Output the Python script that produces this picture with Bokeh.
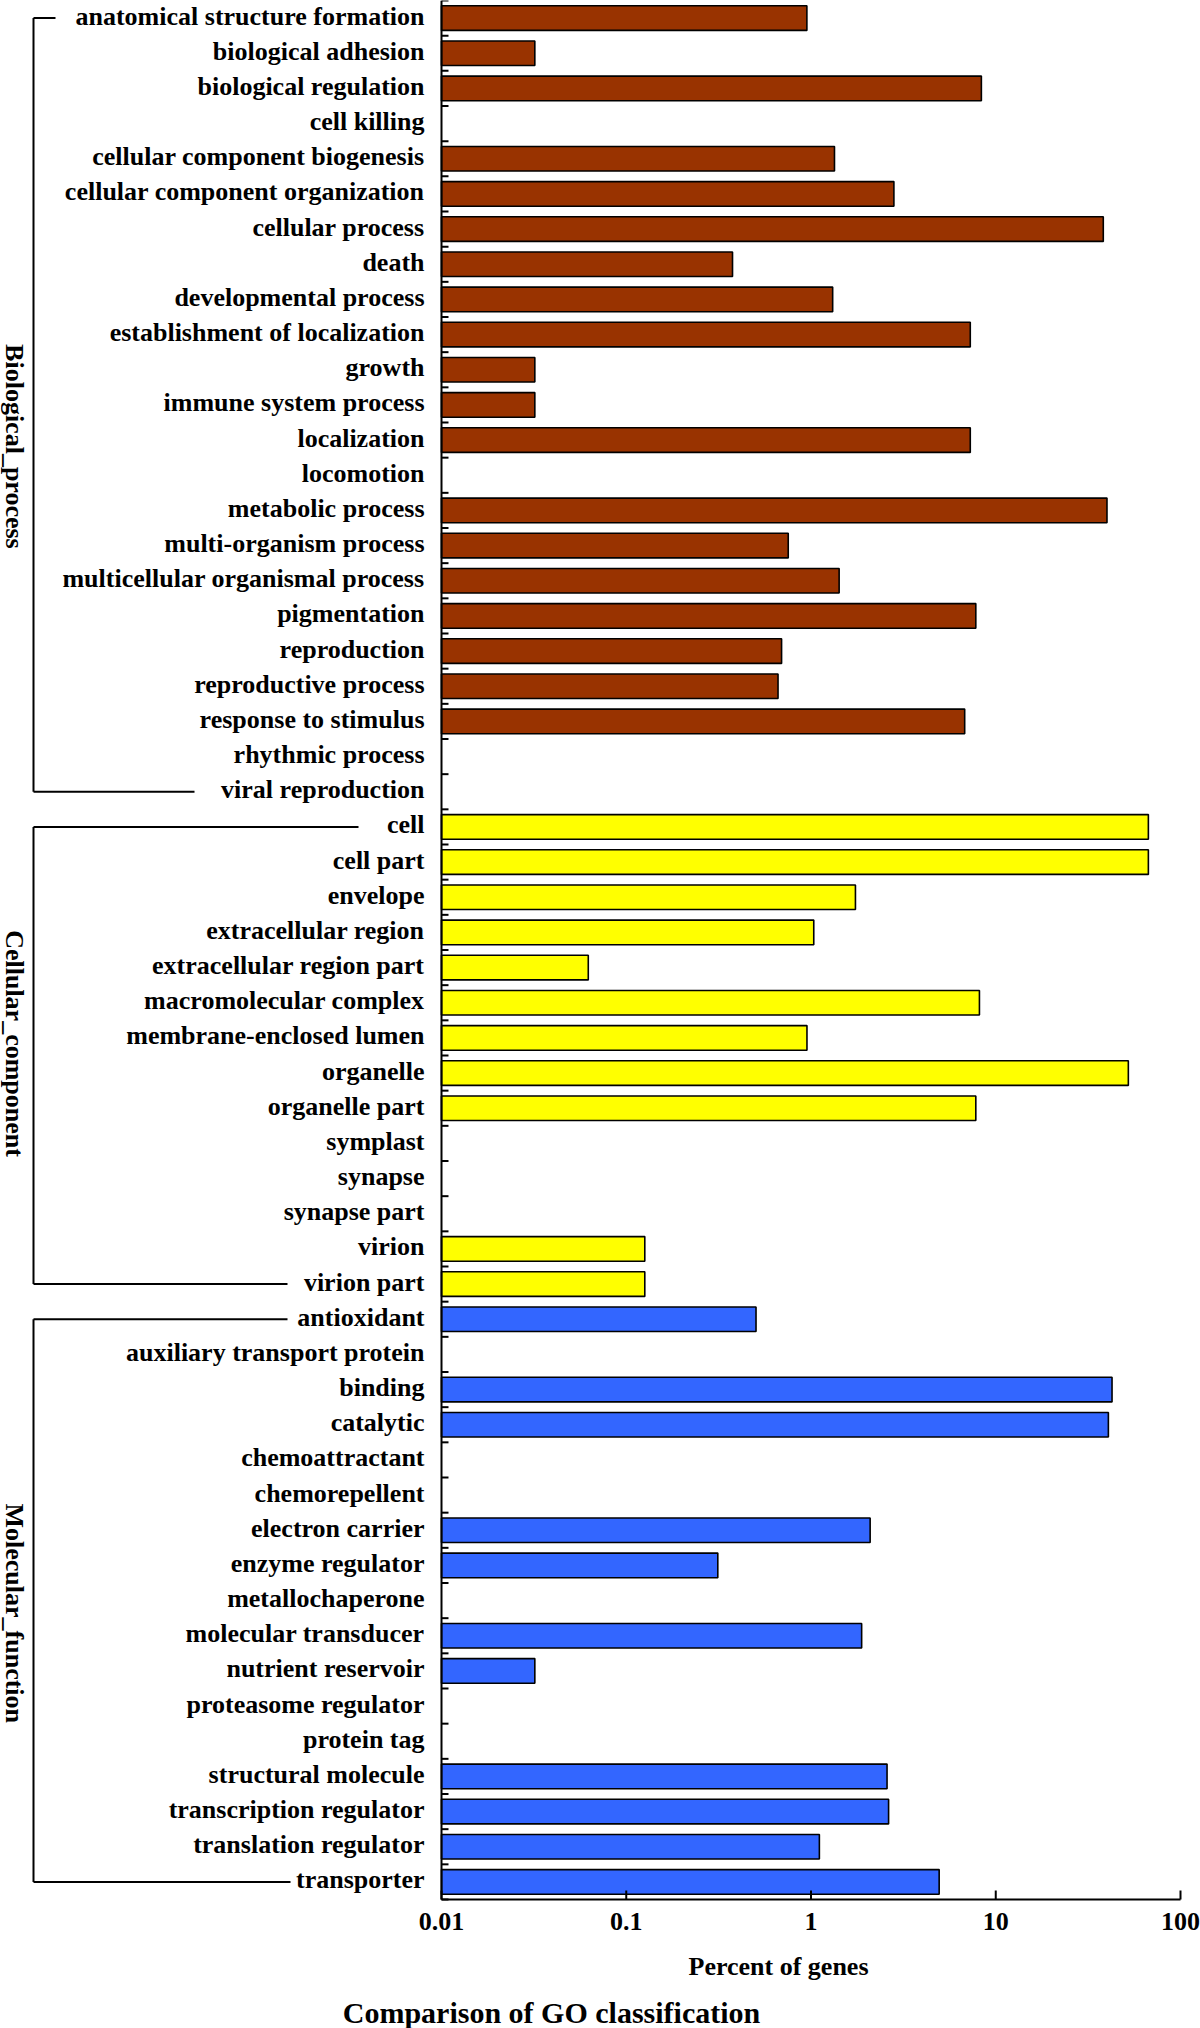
import math
from bokeh.plotting import figure
from bokeh.models import ColumnDataSource, Range1d, LinearScale
from bokeh.core.properties import value
from bokeh.embed import file_html
from bokeh.resources import INLINE

# ---------------- data ----------------
bp_terms = ["anatomical structure formation", "biological adhesion", "biological regulation",
            "cell killing", "cellular component biogenesis", "cellular component organization",
            "cellular process", "death", "developmental process", "establishment of localization",
            "growth", "immune system process", "localization", "locomotion", "metabolic process",
            "multi-organism process", "multicellular organismal process", "pigmentation",
            "reproduction", "reproductive process", "response to stimulus", "rhythmic process",
            "viral reproduction"]
bp_values = [0.95, 0.032, 8.36, 0, 1.34, 2.81, 38.2, 0.376, 1.31, 7.28, 0.032, 0.032, 7.28, 0,
             40.0, 0.753, 1.42, 7.80, 0.693, 0.663, 6.79, 0, 0]

cc_terms = ["cell", "cell part", "envelope", "extracellular region", "extracellular region part",
            "macromolecular complex", "membrane-enclosed lumen", "organelle", "organelle part",
            "symplast", "synapse", "synapse part", "virion", "virion part"]
cc_values = [67.0, 67.0, 1.74, 1.035, 0.0623, 8.16, 0.951, 52.2, 7.80, 0, 0, 0, 0.126, 0.126]

mf_terms = ["antioxidant", "auxiliary transport protein", "binding", "catalytic", "chemoattractant",
            "chemorepellent", "electron carrier", "enzyme regulator", "metallochaperone",
            "molecular transducer", "nutrient reservoir", "proteasome regulator", "protein tag",
            "structural molecule", "transcription regulator", "translation regulator", "transporter"]
mf_values = [0.504, 0, 42.6, 40.7, 0, 0, 2.09, 0.313, 0, 1.88, 0.032, 0, 0, 2.58, 2.63, 1.11, 4.94]

group_names = ["Biological_process", "Cellular_component", "Molecular_function"]
group_colors = ["#993300", "#FFFF00", "#3366FF"]

x_ticks = [0.01, 0.1, 1.0, 10.0, 100.0]
x_tick_labels = ["0.01", "0.1", "1", "10", "100"]
x_title = "Percent of genes"
chart_title = "Comparison of GO classification"

# ---------------- build ----------------
groups = [(bp_terms, bp_values), (cc_terms, cc_values), (mf_terms, mf_values)]
terms, values, colors, group_bounds = [], [], [], []
for (t, v), c in zip(groups, group_colors):
    start = len(terms)
    terms += t
    values += v
    colors += [c] * len(t)
    group_bounds.append((start, len(terms) - 1))
n = len(terms)
ys = [i + 0.5 for i in range(n)]
boundaries = list(range(n + 1))

keep = [i for i in range(n) if values[i] > 0]
src = ColumnDataSource(dict(y=[ys[i] for i in keep],
                            right=[values[i] for i in keep],
                            color=[colors[i] for i in keep]))

# ---------------- layout (page pixels) ----------------
FONT = value("Liberation Serif")
W, H = 1200, 2028
AX_L, AX_R, AX_B = 441, 1180, 1899

lo, hi = math.log10(x_ticks[0]), math.log10(x_ticks[-1])
dec = (AX_R - AX_L) / (hi - lo)
x_start = 10 ** (lo - AX_L / dec)
x_end = 10 ** (hi + (W - AX_R) / dec)
row_px = AX_B / n
y_start = H / row_px

p = figure(width=W, height=H, x_axis_type="log",
           x_range=Range1d(x_start, x_end), y_range=Range1d(y_start, 0),
           x_axis_location=None, y_axis_location=None,
           output_backend="svg", toolbar_location=None, title=None,
           min_border=0, min_border_left=0, min_border_right=0,
           min_border_top=0, min_border_bottom=0)
p.outline_line_color = None
p.grid.visible = False
p.background_fill_color = "white"
p.border_fill_color = "white"

p.extra_x_ranges = {"px": Range1d(0, W)}
p.extra_x_scales = {"px": LinearScale()}
p.extra_y_ranges = {"py": Range1d(H, 0)}
p.extra_y_scales = {"py": LinearScale()}

TXT = dict(text_font=FONT, text_font_style="bold", text_color="black",
           text_baseline="middle")

# bars
p.hbar(y="y", left=x_ticks[0], right="right", height=0.7, fill_color="color",
       line_color="black", line_width=1.6, source=src)

# y axis line and small inward ticks at category boundaries
p.segment(x0=[x_ticks[0]], y0=[0], x1=[x_ticks[0]], y1=[n], line_color="black", line_width=2)
p.segment(x0=AX_L, x1=AX_L + 7, y0=boundaries, y1=boundaries, x_range_name="px",
          line_color="black", line_width=2)

# x axis line, inward ticks, tick labels
p.segment(x0=[x_ticks[0]], y0=[n], x1=[x_ticks[-1]], y1=[n], line_color="black", line_width=2)
p.segment(x0=x_ticks, x1=x_ticks, y0=AX_B, y1=AX_B - 9, y_range_name="py",
          line_color="black", line_width=2)
p.text(x=x_ticks, y=1921, text=x_tick_labels, y_range_name="py", text_align="center",
       text_font_size=value("26px"), **TXT)

# category labels
p.text(x=424, y=ys, text=terms, x_range_name="px", text_align="right", y_offset=-2,
       text_font_size=value("26px"), **TXT)

# group brackets and group names
bracket_x = 33
top_ends = [55, 358, 287]
bottom_ends = [194, 287, 290]
label_y = [12.68, 29.66, 45.86]
bx0, by0, bx1, by1 = [], [], [], []
for (s, e), te, be in zip(group_bounds, top_ends, bottom_ends):
    y0, y1 = ys[s], ys[e]
    bx0 += [bracket_x, bracket_x, bracket_x]
    bx1 += [bracket_x, te, be]
    by0 += [y0, y0, y1]
    by1 += [y1, y0, y1]
p.segment(x0=bx0, y0=by0, x1=bx1, y1=by1, x_range_name="px", line_color="black",
          line_width=2)
p.text(x=14, y=label_y, text=group_names, x_range_name="px", angle=-math.pi / 2,
       text_align="center", text_font_size=value("26px"), **TXT)

# axis title and chart title
p.text(x=[778], y=[1966], text=[x_title], x_range_name="px", y_range_name="py",
       text_align="center", text_font_size=value("26px"), **TXT)
p.text(x=[551], y=[2012], text=[chart_title], x_range_name="px", y_range_name="py",
       text_align="center", text_font_size=value("30px"), **TXT)

open("out.html", "w").write(file_html(p, INLINE))
